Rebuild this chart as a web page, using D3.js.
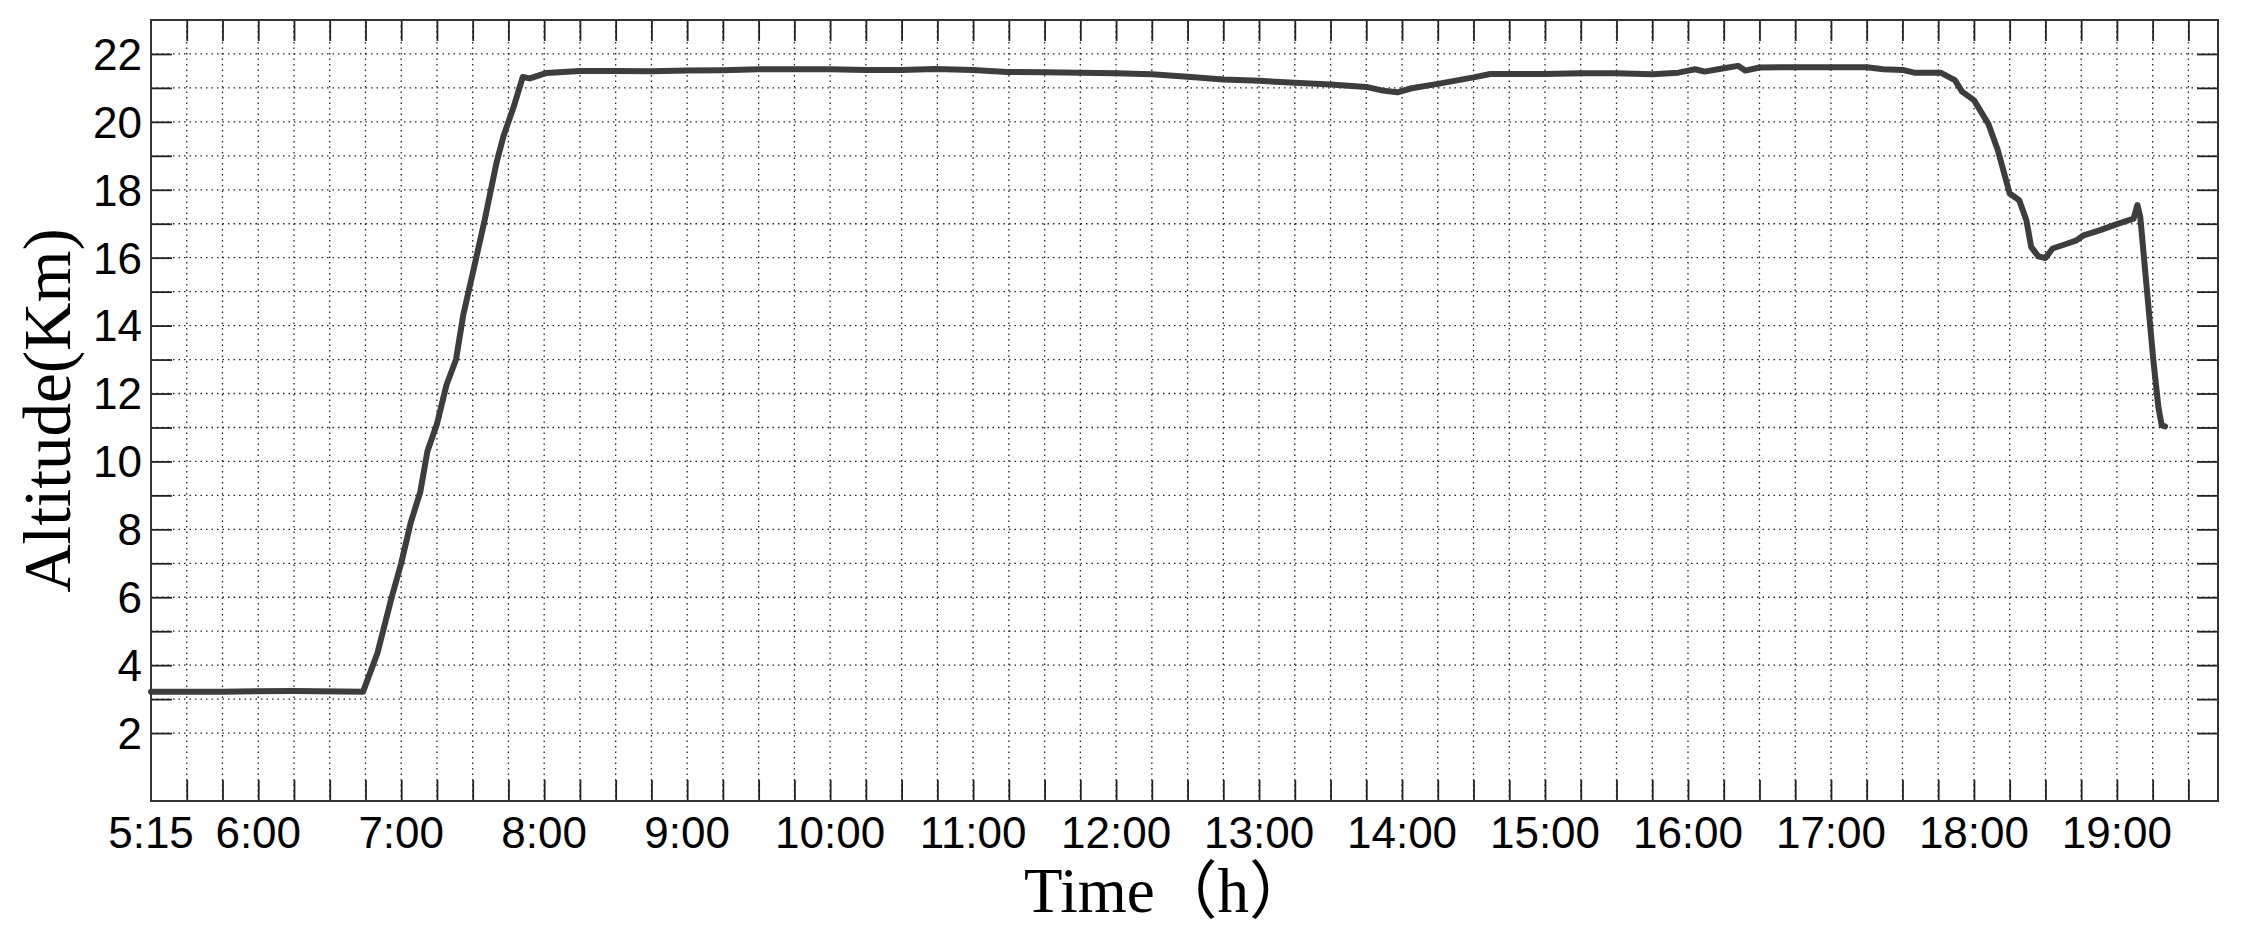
<!DOCTYPE html>
<html>
<head>
<meta charset="utf-8">
<script src="https://cdn.jsdelivr.net/npm/d3@7"></script>
<style>
  body { margin: 0; background: #fff; }
  .tick-label { font-family: "Liberation Sans", Arial, sans-serif; font-size: 44px; fill: #000; }
  .axis-title { font-family: "Liberation Serif", "Times New Roman", "Noto Sans CJK SC", serif; fill: #000; }
</style>
</head>
<body>
<div id="chart"></div>
<script>
// flight time (h:mm) and altitude (km)
var times = ["5:15", "5:45", "6:15", "6:44", "6:50", "6:56", "7:00", "7:04", "7:08", "7:11",
  "7:15", "7:19", "7:23", "7:26", "7:31", "7:35", "7:40", "7:43", "7:45", "7:47",
  "7:51", "7:54", "8:01", "8:15", "8:30", "8:45", "9:00", "9:15", "9:30", "9:45",
  "10:00", "10:15", "10:30", "10:44", "11:00", "11:14", "11:30", "11:45", "12:00", "12:15",
  "12:30", "12:45", "13:00", "13:15", "13:30", "13:45", "13:52", "13:58", "14:04", "14:15",
  "14:30", "14:37", "14:45", "15:00", "15:15", "15:30", "15:45", "15:56", "16:03", "16:07",
  "16:15", "16:21", "16:24", "16:30", "16:45", "17:00", "17:15", "17:22", "17:30", "17:35",
  "17:46", "17:52", "17:55", "18:00", "18:06", "18:10", "18:15", "18:19", "18:22", "18:24",
  "18:27", "18:30", "18:33", "18:39", "18:43", "18:46", "18:53", "19:00", "19:07", "19:08.6",
  "19:09.8", "19:12.6", "19:15.3", "19:17.4", "19:18.8", "19:20.2"];
var altitude = [3.22, 3.22, 3.24, 3.22, 4.35, 6.0, 7.0, 8.2, 9.1, 10.3,
  11.1, 12.25, 13.0, 14.3, 15.85, 17.1, 18.8, 19.6, 20.0, 20.4,
  21.32, 21.28, 21.44, 21.5, 21.5, 21.49, 21.51, 21.52, 21.55, 21.55,
  21.55, 21.53, 21.53, 21.56, 21.53, 21.47, 21.46, 21.45, 21.43, 21.4,
  21.33, 21.25, 21.21, 21.15, 21.1, 21.03, 20.92, 20.87, 20.99, 21.12,
  21.31, 21.41, 21.41, 21.41, 21.43, 21.43, 21.4, 21.45, 21.55, 21.48,
  21.58, 21.65, 21.51, 21.6, 21.61, 21.61, 21.61, 21.55, 21.53, 21.45,
  21.45, 21.23, 20.89, 20.64, 19.95, 19.17, 17.89, 17.69, 17.1, 16.32,
  16.04, 15.99, 16.27, 16.41, 16.51, 16.66, 16.81, 16.99, 17.15, 17.55,
  17.2, 15.04, 12.97, 11.6, 11.06, 11.03];

var xLabels = ["5:15", "6:00", "7:00", "8:00", "9:00", "10:00", "11:00", "12:00", "13:00",
  "14:00", "15:00", "16:00", "17:00", "18:00", "19:00"];
var yLabels = [2, 4, 6, 8, 10, 12, 14, 16, 18, 20, 22];

function toHours(s) {
  var p = s.split(":");
  return +p[0] + parseFloat(p[1]) / 60;
}

var W = 2241, H = 931;
var margin = { top: 20, right: 23, bottom: 130, left: 151 },
    width = W - margin.left - margin.right,
    height = H - margin.top - margin.bottom;

var data = times.map(function (t, i) { return { t: toHours(t), v: altitude[i] }; });

var x = d3.scaleLinear().domain([5.25, 19.707]).range([0, width]);
var y = d3.scaleLinear().domain([0, 23]).range([height, 0]);

var svg = d3.select("#chart").append("svg")
    .attr("width", W).attr("height", H)
    .append("g")
    .attr("transform", "translate(" + margin.left + "," + margin.top + ")");

// quarter-hour and 1 km ticks
var xTicks = d3.range(22, 79).map(function (k) { return k / 4; });   // 5:30 .. 19:30
var yTicks = d3.range(2, 23);

// dotted grid
svg.append("g").selectAll("line").data(xTicks).enter().append("line")
    .attr("x1", d => x(d)).attr("x2", d => x(d))
    .attr("y1", 0).attr("y2", height)
    .attr("stroke", "#222").attr("stroke-width", 1.3)
    .attr("stroke-dasharray", "1.5,4");
svg.append("g").selectAll("line").data(yTicks).enter().append("line")
    .attr("x1", 0).attr("x2", width)
    .attr("y1", d => y(d)).attr("y2", d => y(d))
    .attr("stroke", "#222").attr("stroke-width", 1.3)
    .attr("stroke-dasharray", "1.5,4");

// inward ticks on all four sides
var tl = 21;
svg.append("g").call(d3.axisBottom(x).tickValues(xTicks).tickSize(-tl).tickFormat(""))
    .attr("transform", "translate(0," + height + ")");
svg.append("g").call(d3.axisTop(x).tickValues(xTicks).tickSize(-tl).tickFormat(""));
svg.append("g").call(d3.axisLeft(y).tickValues(yTicks).tickSize(-tl).tickFormat(""));
svg.append("g").call(d3.axisRight(y).tickValues(yTicks).tickSize(-tl).tickFormat(""))
    .attr("transform", "translate(" + width + ",0)");
svg.selectAll(".domain").remove();
svg.selectAll(".tick line").attr("stroke", "#222").attr("stroke-width", 1.8);

// frame
svg.append("rect")
    .attr("width", width).attr("height", height)
    .attr("fill", "none").attr("stroke", "#333").attr("stroke-width", 2);

// tick labels
svg.append("g").selectAll("text").data(xLabels).enter().append("text")
    .attr("class", "tick-label")
    .attr("x", d => x(toHours(d)))
    .attr("y", height + 47)
    .attr("text-anchor", "middle")
    .text(d => d);
svg.append("g").selectAll("text").data(yLabels).enter().append("text")
    .attr("class", "tick-label")
    .attr("x", -9)
    .attr("y", d => y(d))
    .attr("dy", "0.36em")
    .attr("text-anchor", "end")
    .text(d => d);

// altitude trace
var line = d3.line().x(d => x(d.t)).y(d => y(d.v));
svg.append("path").datum(data)
    .attr("d", line)
    .attr("fill", "none")
    .attr("stroke", "#3d3d3d")
    .attr("stroke-width", 6)
    .attr("stroke-linejoin", "round")
    .attr("stroke-linecap", "round");

// axis titles
svg.append("text").attr("class", "axis-title")
    .attr("transform", "translate(-81," + (height / 2) + ") rotate(-90)")
    .attr("text-anchor", "middle")
    .style("font-size", "67px")
    .text("Altitude(Km)");
svg.append("text").attr("class", "axis-title")
    .attr("x", 1168 - margin.left)
    .attr("y", height + 111)
    .attr("text-anchor", "middle")
    .style("font-size", "63px")
    .text("Time（h）");
</script>
</body>
</html>
